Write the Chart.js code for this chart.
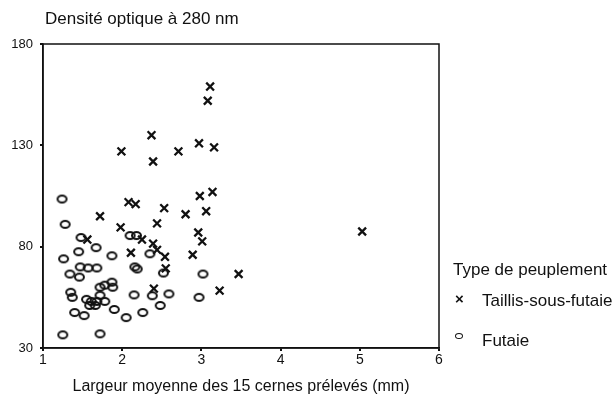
<!DOCTYPE html>
<html>
<head>
<meta charset="utf-8">
<script src="https://cdn.jsdelivr.net/npm/chart.js@4/dist/chart.umd.min.js"></script>
<style>
  html, body { margin: 0; padding: 0; background: #fff; }
  #wrap { position: relative; width: 615px; height: 403px; font-family: "Liberation Sans", Arial, sans-serif; color: #111; }
  #chart { position: absolute; left: 0; top: 0; }
  .txt { position: absolute; font-size: 17px; line-height: 20px; white-space: nowrap; }
  .mark-x { position: absolute; font-size: 15px; line-height: 15px; font-weight: bold; }
  .mark-o { position: absolute; width: 6px; height: 4px; border: 1.7px solid #111; border-radius: 50%; }
</style>
</head>
<body>
<div id="wrap">
  <canvas id="chart" width="615" height="403"></canvas>
  <div class="txt" style="left:45px; top:9px;">Densité optique à 280 nm</div>
  <div class="txt" style="left:453px; top:260px;">Type de peuplement</div>
  <div class="mark-x" style="left:455px; top:291px;">×</div>
  <div class="txt" style="left:482px; top:291px;">Taillis-sous-futaie</div>
  <div class="mark-o" style="left:455px; top:333px;"></div>
  <div class="txt" style="left:482px; top:331px;">Futaie</div>
</div>
<script>
// Taillis-sous-futaie (crosses)
const taillisX = [3.11, 3.08, 2.37, 1.99, 2.39, 2.71, 2.97, 3.16, 2.98, 3.14, 2.08, 2.17, 2.53, 1.72, 2.80, 3.06,
  2.44, 1.98, 2.96, 3.01, 1.56, 2.25, 2.39, 2.44, 2.11, 2.54, 2.89, 3.47, 3.23, 2.55, 2.40, 5.03];
const taillisY = [159, 152, 135, 127, 122, 127, 131, 129, 105, 107, 102, 101, 99, 95, 96, 97.5,
  91.5, 89.5, 87, 82.6, 83.5, 83.5, 81.5, 78.4, 77, 75, 76, 66.5, 58.3, 69.3, 59.3, 87.5];

// Futaie (circles)
const futaieX = [1.24, 1.28, 1.48, 1.45, 1.67, 1.26, 1.47, 1.57, 1.68, 1.87, 2.10, 2.18, 2.35, 2.16, 2.19, 2.52,
  3.02, 1.34, 1.46, 1.87, 1.78, 1.72, 1.88, 1.35, 1.37, 1.55, 1.61, 1.68, 1.59, 1.66, 1.78, 1.72,
  2.15, 2.38, 2.59, 2.97, 1.40, 1.52, 1.90, 2.05, 2.26, 2.48, 1.25, 1.72];
const futaieY = [103.5, 91, 84.5, 77.5, 79.5, 74, 70, 69.5, 69.5, 75.5, 85.5, 85.5, 76.5, 70, 69, 67,
  66.5, 66.5, 65, 62.5, 61, 60, 60, 57.5, 55, 54, 53, 53, 51, 51, 53, 56,
  56.2, 55.8, 56.7, 55, 47.5, 46, 49, 45, 47.5, 51, 36.5, 37];

const xTicks = [1, 2, 3, 4, 5, 6];
const yTicks = [30, 80, 130, 180];
const xTitle = "Largeur moyenne des 15 cernes prélevés (mm)";

const ink = "#111";

function toPoints(xs, ys) {
  return xs.map((x, i) => ({ x, y: ys[i] }));
}

function ellipseMarker(w, h, lw) {
  const c = document.createElement("canvas");
  c.width = Math.ceil(w + lw * 2);
  c.height = Math.ceil(h + lw * 2);
  const g = c.getContext("2d");
  g.strokeStyle = ink;
  g.lineWidth = lw;
  g.beginPath();
  g.ellipse(c.width / 2, c.height / 2, w / 2, h / 2, 0, 0, Math.PI * 2);
  g.stroke();
  return c;
}

const frame = {
  id: "frame",
  beforeDatasetsDraw(chart) {
    const { ctx, chartArea: { left, top, right, bottom } } = chart;
    ctx.save();
    ctx.strokeStyle = ink;
    ctx.lineWidth = 1.5;
    ctx.strokeRect(left, top, right - left, bottom - top);
    ctx.restore();
  }
};

new Chart(document.getElementById("chart"), {
  type: "scatter",
  data: {
    datasets: [
      {
        label: "Taillis-sous-futaie",
        data: toPoints(taillisX, taillisY),
        pointStyle: "crossRot",
        radius: 5.5,
        borderWidth: 2.3,
        borderColor: ink,
        backgroundColor: ink
      },
      {
        label: "Futaie",
        data: toPoints(futaieX, futaieY),
        pointStyle: ellipseMarker(9, 7, 2),
        radius: 5
      }
    ]
  },
  options: {
    responsive: false,
    animation: false,
    layout: { padding: { top: 44, right: 176, bottom: 0, left: 0 } },
    plugins: { legend: { display: false }, tooltip: { enabled: false } },
    scales: {
      x: {
        type: "linear",
        min: xTicks[0],
        max: xTicks[xTicks.length - 1],
        afterFit(scale) { scale.height = 55; },
        afterBuildTicks(scale) { scale.ticks = xTicks.map((value) => ({ value })); },
        grid: { drawOnChartArea: false, tickLength: 3, color: ink, lineWidth: 2 },
        border: { color: ink, width: 1.5 },
        ticks: { color: ink, padding: 1, font: { family: "Liberation Sans", size: 14 } },
        title: {
          display: true,
          text: xTitle,
          color: ink,
          padding: { top: 0, bottom: 7 },
          font: { family: "Liberation Sans", size: 16 }
        }
      },
      y: {
        type: "linear",
        min: yTicks[0],
        max: yTicks[yTicks.length - 1],
        afterFit(scale) { scale.width = 43; },
        afterBuildTicks(scale) { scale.ticks = yTicks.map((value) => ({ value })); },
        grid: { drawOnChartArea: false, tickLength: 3, color: ink, lineWidth: 2 },
        border: { color: ink, width: 1.5 },
        ticks: { color: ink, padding: 7, font: { family: "Liberation Sans", size: 13 } }
      }
    }
  },
  plugins: [frame]
});
</script>
</body>
</html>
